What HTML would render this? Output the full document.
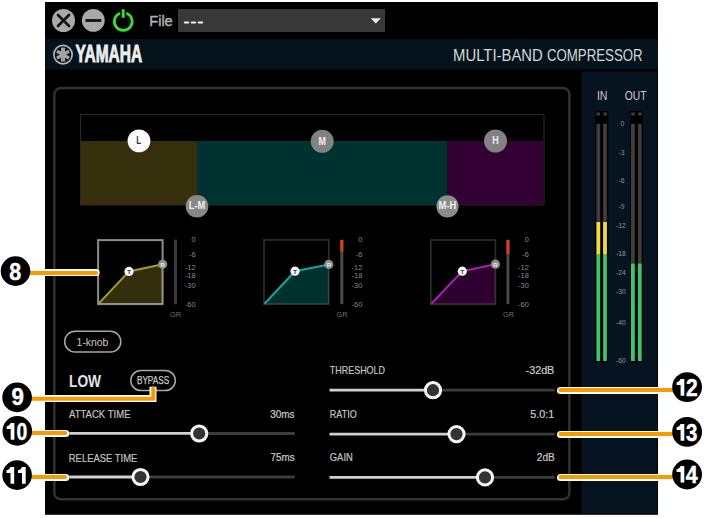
<!DOCTYPE html>
<html><head><meta charset="utf-8">
<style>
html,body{margin:0;padding:0;background:#fff;width:706px;height:518px;overflow:hidden}
svg{display:block}
text{font-family:"Liberation Sans",sans-serif}
</style></head>
<body>
<svg width="706" height="518" viewBox="0 0 706 518">
<rect x="0" y="0" width="706" height="518" fill="#fff"/>
<!-- main black panel -->
<rect x="45" y="2" width="613" height="512.8" fill="#000"/>
<!-- title row -->
<circle cx="63.5" cy="20.5" r="11.5" fill="#a9a9a9"/>
<path d="M58 15 L69 26 M69 15 L58 26" stroke="#111" stroke-width="2.6" stroke-linecap="round"/>
<circle cx="93.3" cy="20.4" r="11.4" fill="#a9a9a9"/>
<path d="M85.5 20.5 H101.3" stroke="#111" stroke-width="2.8"/>
<path d="M119.2 13.6 A8.9 8.9 0 1 0 127.3 13.6" fill="none" stroke="#34e034" stroke-width="2.7" stroke-linecap="round"/>
<path d="M123.2 9.3 V17.8" stroke="#34e034" stroke-width="2.9"/>
<text x="149.3" y="26.4" font-size="15" fill="#b0b0b0" stroke="#b0b0b0" stroke-width="0.45" textLength="23.4" lengthAdjust="spacingAndGlyphs">File</text>
<rect x="178" y="9" width="207" height="23" fill="#383838"/>
<g fill="#f2f2f2"><rect x="183.8" y="21.5" width="5.4" height="1.9" rx="0.9"/><rect x="190.7" y="21.5" width="5.4" height="1.9" rx="0.9"/><rect x="197.6" y="21.5" width="5.6" height="1.9" rx="0.9"/></g>
<polygon points="370.8,18.2 380.8,18.2 375.8,23.6" fill="#f2f2f2"/>
<!-- header bar -->
<rect x="45" y="39" width="613" height="30.5" fill="#04121b"/>
<circle cx="63" cy="54.6" r="9.2" fill="none" stroke="#b4b4b4" stroke-width="1.7"/>
<g stroke="#a6a6a6" stroke-linecap="butt">
<path d="M63 47.6 V61.6" stroke-width="4"/>
<path d="M57 51.1 L69 58.1" stroke-width="3.2"/>
<path d="M57 58.1 L69 51.1" stroke-width="3.2"/>
</g>
<path d="M63 48 V61.2" stroke="#9a9a9a" stroke-width="0.8"/>
<text x="75.6" y="62.2" font-size="23" font-weight="bold" fill="#ececec" stroke="#ececec" stroke-width="0.9" textLength="66.6" lengthAdjust="spacingAndGlyphs">YAMAHA</text>
<text x="453" y="60.6" font-size="16.4" fill="#d8d8d8" textLength="89.8" lengthAdjust="spacingAndGlyphs">MULTI-BAND</text><text x="547" y="60.6" font-size="16.4" fill="#d8d8d8" textLength="95.6" lengthAdjust="spacingAndGlyphs">COMPRESSOR</text>
<!-- meter panel -->
<rect x="581.5" y="71.4" width="75.6" height="442.2" fill="#061320"/>
<!-- inner rounded panel -->
<rect x="54.35" y="88" width="515.05" height="411.3" rx="6.5" ry="6.5" fill="none" stroke="#323232" stroke-width="2.4"/>
<!-- band graph -->
<rect x="80.5" y="114.5" width="463.5" height="90.5" fill="none" stroke="#2a2a2a" stroke-width="1"/>
<rect x="81" y="141" width="116" height="64" fill="#352f0b"/>
<rect x="197" y="141" width="250.5" height="64" fill="#003330"/>
<rect x="447.5" y="141" width="96" height="64" fill="#320033"/>
<g font-weight="bold" text-anchor="middle">
<circle cx="139" cy="140.9" r="11.4" fill="#fafafa"/>
<text x="138.8" y="144.4" font-size="10.4" fill="#2a3a62" textLength="5" lengthAdjust="spacingAndGlyphs">L</text>
<circle cx="322.2" cy="141.3" r="11.5" fill="#828282"/>
<text x="322.2" y="144.6" font-size="10" fill="#f0f0f0" textLength="7.4" lengthAdjust="spacingAndGlyphs">M</text>
<circle cx="495.5" cy="141" r="11.5" fill="#828282"/>
<text x="495.5" y="144" font-size="10" fill="#f0f0f0" textLength="6.4" lengthAdjust="spacingAndGlyphs">H</text>
<circle cx="197" cy="206.2" r="11.3" fill="#888"/>
<text x="197" y="209.4" font-size="10" fill="#f0f0f0" textLength="16.6" lengthAdjust="spacingAndGlyphs">L-M</text>
<circle cx="447.5" cy="206.3" r="11.1" fill="#8c8c8c"/>
<text x="447.4" y="209.4" font-size="10" fill="#f0f0f0" textLength="17.7" lengthAdjust="spacingAndGlyphs">M-H</text>
</g>
<!-- compressor graphs -->
<g>
<polygon points="98.1,304.1 129,271.4 162.6,264.3 162.6,304.1" fill="#332e0b"/>
<rect x="98.1" y="240.1" width="64.50" height="64.00" fill="none" stroke="rgba(255,255,255,0.55)" stroke-width="2"/>
<polyline points="98.6,303.6 129,271.4 162.6,264.3" fill="none" stroke="#a59c2e" stroke-width="2"/>
<circle cx="129" cy="271.4" r="4.6" fill="#f5f5f5"/>
<text x="129" y="273.8" font-size="6" font-weight="bold" text-anchor="middle" fill="#333">T</text>
<circle cx="162.6" cy="264.3" r="4.6" fill="#8e8e8e"/>
<text x="162.6" y="266.6" font-size="6" font-weight="bold" text-anchor="middle" fill="#eee">R</text>
</g>
<g>
<polygon points="264,304.2 295,271.2 328.8,264.4 328.8,304.2" fill="#00312d"/>
<rect x="264" y="239.9" width="64.80" height="64.30" fill="none" stroke="rgba(255,255,255,0.17)" stroke-width="1.8"/>
<polyline points="264.5,303.7 295,271.2 328.8,264.4" fill="none" stroke="#19a3a0" stroke-width="2"/>
<circle cx="295" cy="271.2" r="4.6" fill="#f5f5f5"/>
<text x="295" y="273.6" font-size="6" font-weight="bold" text-anchor="middle" fill="#333">T</text>
<circle cx="328.8" cy="264.4" r="4.6" fill="#8e8e8e"/>
<text x="328.8" y="266.7" font-size="6" font-weight="bold" text-anchor="middle" fill="#eee">R</text>
</g>
<g>
<polygon points="430.8,304.2 462.3,271.2 495.4,264.2 495.4,304.2" fill="#2d002f"/>
<rect x="430.8" y="240" width="64.60" height="64.20" fill="none" stroke="rgba(255,255,255,0.17)" stroke-width="1.8"/>
<polyline points="431.3,303.7 462.3,271.2 495.4,264.2" fill="none" stroke="#a41fb2" stroke-width="2"/>
<circle cx="462.3" cy="271.2" r="4.6" fill="#f5f5f5"/>
<text x="462.3" y="273.6" font-size="6" font-weight="bold" text-anchor="middle" fill="#333">T</text>
<circle cx="495.4" cy="264.2" r="4.6" fill="#8e8e8e"/>
<text x="495.4" y="266.5" font-size="6" font-weight="bold" text-anchor="middle" fill="#eee">R</text>
</g>
<!-- GR meters -->
<rect x="174" y="239.6" width="3" height="64.6" fill="#3a3a3a"/>
<rect x="340.3" y="239.6" width="3" height="64.6" fill="#4a4a4a"/>
<rect x="340.3" y="240" width="3" height="11.6" fill="#e0400e"/>
<rect x="506.5" y="239.6" width="2.9" height="64.6" fill="#4a4a4a"/>
<rect x="506.5" y="240" width="2.9" height="14" fill="#e0400e"/>
<g font-size="7.4" fill="#8a8a8a" text-anchor="end">
<text x="195.6" y="241.8">0</text><text x="195.6" y="257.3">-6</text><text x="195.6" y="269.5">-12</text><text x="195.6" y="278">-18</text><text x="195.6" y="288.2">-30</text><text x="195.6" y="306.9">-60</text>
<text x="362.3" y="241.8">0</text><text x="362.3" y="257.3">-6</text><text x="362.3" y="269.5">-12</text><text x="362.3" y="278">-18</text><text x="362.3" y="288.2">-30</text><text x="362.3" y="306.9">-60</text>
<text x="528.8" y="241.8">0</text><text x="528.8" y="257.3">-6</text><text x="528.8" y="269.5">-12</text><text x="528.8" y="278">-18</text><text x="528.8" y="288.2">-30</text><text x="528.8" y="306.9">-60</text>
</g>
<g font-size="7.4" fill="#6e6e6e">
<text x="170" y="317">GR</text><text x="336.5" y="317">GR</text><text x="503" y="317">GR</text>
</g>
<!-- 1-knob, LOW, BYPASS -->
<rect x="64.7" y="331.2" width="56.1" height="20.9" rx="10.45" fill="none" stroke="#a8a8a8" stroke-width="1.5"/>
<text x="76.6" y="345.8" font-size="10.5" fill="#c8c8c8" textLength="31.8" lengthAdjust="spacingAndGlyphs">1-knob</text>
<text x="69" y="387" font-size="17.3" font-weight="bold" fill="#e4e4e4" textLength="32" lengthAdjust="spacingAndGlyphs">LOW</text>
<rect x="130.8" y="370.4" width="44.5" height="20.2" rx="10.1" fill="none" stroke="#a8a8a8" stroke-width="1.5"/>
<text x="136.9" y="384.2" font-size="10" fill="#c8c8c8" stroke="#c8c8c8" stroke-width="0.25" textLength="32.3" lengthAdjust="spacingAndGlyphs">BYPASS</text>
<!-- slider labels -->
<g font-size="11.1" fill="#c4c4c4" stroke="#c4c4c4" stroke-width="0.2">
<text x="69" y="417.7" textLength="61.5" lengthAdjust="spacingAndGlyphs">ATTACK TIME</text>
<text x="68.8" y="461.5" textLength="68.5" lengthAdjust="spacingAndGlyphs">RELEASE TIME</text>
<text x="329.8" y="373.9" textLength="55.2" lengthAdjust="spacingAndGlyphs">THRESHOLD</text>
<text x="329.8" y="418" textLength="26.9" lengthAdjust="spacingAndGlyphs">RATIO</text>
<text x="329.8" y="461.4" textLength="23" lengthAdjust="spacingAndGlyphs">GAIN</text>
</g>
<g font-size="10.8" fill="#cccccc" stroke="#cccccc" stroke-width="0.2">
<text x="270.2" y="417.8" textLength="24.4" lengthAdjust="spacingAndGlyphs">30ms</text>
<text x="270.5" y="461.4" textLength="24.1" lengthAdjust="spacingAndGlyphs">75ms</text>
<text x="525.6" y="373.8" textLength="28.7" lengthAdjust="spacingAndGlyphs">-32dB</text>
<text x="530.2" y="418" textLength="24" lengthAdjust="spacingAndGlyphs">5.0:1</text>
<text x="536.8" y="461.4" textLength="17.9" lengthAdjust="spacingAndGlyphs">2dB</text>
</g>
<!-- sliders -->
<g stroke-width="2.8" stroke-linecap="butt">
<path d="M69.3 433.3 H199.2" stroke="#d0d0d0"/><path d="M199.2 433.5 H294.8" stroke="#3c3c3c"/>
<path d="M69.3 477 H140.5" stroke="#d0d0d0"/><path d="M140.5 477 H294.8" stroke="#3c3c3c"/>
<path d="M329.5 390.2 H433" stroke="#d0d0d0"/><path d="M433 390.2 H554.7" stroke="#3c3c3c"/>
<path d="M329.5 434.1 H456.5" stroke="#d0d0d0"/><path d="M456.5 434.1 H554.7" stroke="#3c3c3c"/>
<path d="M329.5 477.4 H485" stroke="#d0d0d0"/><path d="M485 477.4 H554.7" stroke="#3c3c3c"/>
</g>
<g fill="#333" stroke="#f5f5f5" stroke-width="3">
<circle cx="199.2" cy="433.5" r="7.6"/>
<circle cx="140.5" cy="477" r="7.6"/>
<circle cx="433" cy="390.2" r="7.6"/>
<circle cx="456.5" cy="434.1" r="7.6"/>
<circle cx="485" cy="477.4" r="7.6"/>
</g>
<!-- level meters -->
<g font-size="12.6" fill="#cfcfcf">
<text x="596.9" y="99.7" textLength="10.6" lengthAdjust="spacingAndGlyphs">IN</text>
<text x="624.8" y="99.7" textLength="21.8" lengthAdjust="spacingAndGlyphs">OUT</text>
</g>
<rect x="595.2" y="111" width="13" height="252" fill="#000"/>
<rect x="630.3" y="111" width="12.6" height="252" fill="#000"/>
<g fill="#423b3b">
<rect x="596.4" y="112.5" width="3.6" height="3"/><rect x="603.4" y="112.5" width="3.6" height="3"/>
<rect x="631.2" y="112.5" width="3.6" height="3"/><rect x="638.1" y="112.5" width="3.6" height="3"/>
<rect x="596.4" y="123.8" width="3.8" height="98"/><rect x="603.1" y="123.8" width="3.8" height="98"/>
<rect x="631" y="123.8" width="3.8" height="139"/><rect x="637.9" y="123.8" width="3.8" height="139"/>
</g>
<g fill="#f0d840">
<rect x="596.4" y="222" width="3.8" height="32.7"/><rect x="603.1" y="222" width="3.8" height="32.7"/>
</g>
<g fill="#3dc46e">
<rect x="596.4" y="254.7" width="3.8" height="106.3"/><rect x="603.1" y="254.7" width="3.8" height="106.3"/>
<rect x="631" y="263.3" width="3.8" height="97.7"/><rect x="637.9" y="263.3" width="3.8" height="97.7"/>
</g>
<g font-size="6.8" fill="#8c96a0" text-anchor="middle">
<text x="622.5" y="125.5">0</text>
<text x="621.5" y="155">-3</text>
<text x="621.5" y="183.3">-6</text>
<text x="621.5" y="208.5">-9</text>
<text x="621" y="227.9">-12</text>
<text x="621" y="256.1">-18</text>
<text x="621" y="275.3">-24</text>
<text x="621" y="294.3">-30</text>
<text x="621" y="325.1">-40</text>
<text x="621" y="362.9">-60</text>
</g>
<!-- callouts -->
<g fill="none" stroke-linecap="round">
<g stroke="#fff" stroke-width="7">
<path d="M30 272.5 H96.1"/>
<path d="M30 398.5 H153 V386.8" stroke-linejoin="miter" stroke-linecap="butt"/>
<path d="M30 433.5 H65.8"/>
<path d="M30 477.5 H65.8"/>
<path d="M560.5 390.5 H675"/>
<path d="M560.5 434.5 H675"/>
<path d="M560.5 477.5 H675"/>
</g>
<g stroke="#fb9a00" stroke-width="4">
<path d="M30 273 H96"/>
<path d="M30 398.8 H153.3 V388.2" stroke-linejoin="miter"/>
<path d="M30 433 H65.2"/>
<path d="M30 477 H65.2"/>
<path d="M560.3 390 H675"/>
<path d="M560.3 434 H675"/>
<path d="M560.3 477 H675"/>
</g>
</g>
<g fill="#000">
<circle cx="15.5" cy="271.1" r="14.8"/>
<circle cx="17.1" cy="397.4" r="14.8"/>
<circle cx="17.3" cy="430.9" r="14.8"/>
<circle cx="17.1" cy="475.1" r="14.8"/>
<circle cx="687.1" cy="387.1" r="14.9"/>
<circle cx="687.1" cy="431.9" r="14.9"/>
<circle cx="687.1" cy="474.5" r="14.9"/>
</g>
<g font-size="23.4" font-weight="bold" fill="#fff" stroke="#fff" stroke-width="0.45" text-anchor="middle">
<text x="15.3" y="279.5" textLength="11.9" lengthAdjust="spacingAndGlyphs">8</text>
<text x="17.6" y="405" textLength="12.4" lengthAdjust="spacingAndGlyphs">9</text>
<text x="22" y="439.7" textLength="10.8" lengthAdjust="spacingAndGlyphs">0</text>
<text x="691.85" y="395.7" textLength="11.7" lengthAdjust="spacingAndGlyphs">2</text>
<text x="691.7" y="440.7" textLength="11.4" lengthAdjust="spacingAndGlyphs">3</text>
<text x="691.6" y="482.6" textLength="11.9" lengthAdjust="spacingAndGlyphs">4</text>
</g>
<g fill="#fff">
<path d="M14.40 423.00 L14.40 439.70 L10.70 439.70 L10.70 429.10 L6.70 429.10 L6.70 426.30 L8.40 425.80 L9.80 424.60 L10.70 423.00 Z"/>
<path d="M14.20 467.00 L14.20 483.70 L10.50 483.70 L10.50 473.10 L6.50 473.10 L6.50 470.30 L8.20 469.80 L9.60 468.60 L10.50 467.00 Z"/>
<path d="M25.70 467.00 L25.70 483.70 L22.00 483.70 L22.00 473.10 L18.00 473.10 L18.00 470.30 L19.70 469.80 L21.10 468.60 L22.00 467.00 Z"/>
<path d="M684.30 379.00 L684.30 395.70 L680.60 395.70 L680.60 385.10 L676.60 385.10 L676.60 382.30 L678.30 381.80 L679.70 380.60 L680.60 379.00 Z"/>
<path d="M684.30 424.00 L684.30 440.70 L680.60 440.70 L680.60 430.10 L676.60 430.10 L676.60 427.30 L678.30 426.80 L679.70 425.60 L680.60 424.00 Z"/>
<path d="M684.30 465.90 L684.30 482.60 L680.60 482.60 L680.60 472.00 L676.60 472.00 L676.60 469.20 L678.30 468.70 L679.70 467.50 L680.60 465.90 Z"/>
</g>
</svg>
</body></html>
